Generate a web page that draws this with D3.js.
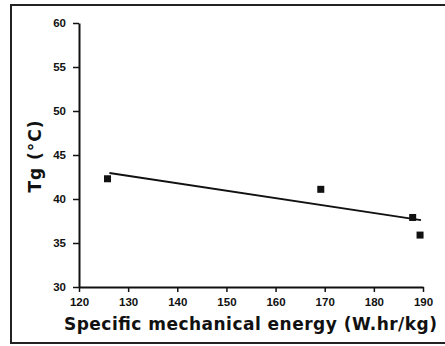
<!DOCTYPE html>
<html>
<head>
<meta charset="utf-8">
<script src="https://cdn.jsdelivr.net/npm/d3@7"></script>
<style>
  body { margin: 0; background: #fff; }
  svg { display: block; }
</style>
</head>
<body>
<div id="canvas"></div>
<script>
"use strict"

/* data */
let energy = [125.8, 169.2, 187.9, 189.4];   // W.hr/kg
let tg = [42.3, 41.1, 37.9, 35.9];           // deg C
let fitX = [126.2, 189.6];                   // regression line ends
let fitY = [42.95, 37.6];
let xTicks = [120, 130, 140, 150, 160, 170, 180, 190];
let yTicks = [30, 35, 40, 45, 50, 55, 60];

let drawing = d3.select("#canvas")
    .append("svg")
    .attr("width", 445)
    .attr("height", 346);

/* outer frame (right edge runs off the picture) */
let frame = drawing.append("rect")
    .attr("x", 11).attr("y", 5)
    .attr("width", 440).attr("height", 338)
    .attr("fill", "none")
    .attr("stroke", "#222")
    .attr("stroke-width", 2);

let x = d3.scaleLinear().domain([120, 190]).range([79, 423]);
let y = d3.scaleLinear().domain([30, 60]).range([287, 23]);

let tickFont = "'Liberation Sans', Arial, sans-serif";

/* axes */
let xAxis = drawing.append("g")
    .attr("transform", "translate(0,287)")
    .call(d3.axisBottom(x).tickValues(xTicks).tickSize(5).tickPadding(6).tickSizeOuter(0));

let yAxis = drawing.append("g")
    .attr("transform", "translate(79,0)")
    .call(d3.axisLeft(y).tickValues(yTicks).tickSize(6).tickPadding(5).tickSizeOuter(0));

drawing.selectAll(".domain").attr("stroke", "#111").attr("stroke-width", 2);
drawing.selectAll(".tick line").attr("stroke", "#111").attr("stroke-width", 1.5);
drawing.selectAll(".tick text")
    .attr("fill", "#111")
    .style("font-family", tickFont)
    .style("font-weight", "bold")
    .style("font-size", "11.5px");
yAxis.selectAll(".tick text").attr("dx", "-2");

/* fit line */
let fit = drawing.append("line")
    .attr("x1", x(fitX[0])).attr("y1", y(fitY[0]))
    .attr("x2", x(fitX[1])).attr("y2", y(fitY[1]))
    .attr("stroke", "#111")
    .attr("stroke-width", 2);

/* square markers */
let points = drawing.selectAll(".pt")
    .data(energy)
    .enter().append("rect")
    .attr("class", "pt")
    .attr("x", (d) => x(d) - 3.5)
    .attr("y", (d, i) => y(tg[i]) - 3.5)
    .attr("width", 7).attr("height", 7)
    .attr("fill", "#111");

/* axis titles */
let xTitle = drawing.append("text")
    .attr("x", 64).attr("y", 330)
    .attr("textLength", 373)
    .attr("lengthAdjust", "spacing")
    .style("font-family", "'DejaVu Sans', sans-serif")
    .style("font-weight", "bold")
    .style("font-size", "17px")
    .attr("fill", "#111")
    .text("Specific mechanical energy (W.hr/kg)");

let yTitle = drawing.append("text")
    .attr("transform", "translate(41,156) rotate(-90)")
    .attr("text-anchor", "middle")
    .style("font-family", "'DejaVu Sans', sans-serif")
    .style("font-weight", "bold")
    .style("font-size", "17px")
    .style("letter-spacing", "1px")
    .attr("fill", "#111")
    .text("Tg (°C)");
</script>
</body>
</html>
